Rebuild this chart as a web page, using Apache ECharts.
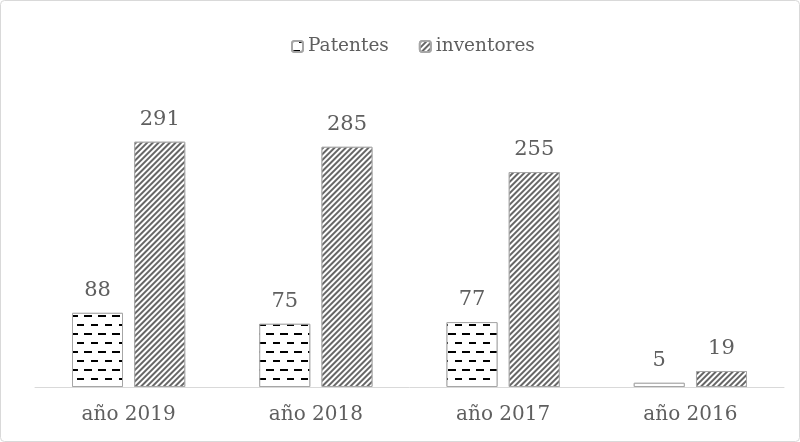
<!DOCTYPE html>
<html>
<head>
<meta charset="utf-8">
<script src="https://cdn.jsdelivr.net/npm/echarts@6/dist/echarts.min.js"></script>
<style>
  html, body { margin: 0; padding: 0; background: #fff; }
  #chartmain { width: 800px; height: 442px; }
</style>
</head>
<body>
<div id="chartmain"></div>
<script>
var categorias = ['año 2019', 'año 2018', 'año 2017', 'año 2016'];
var patentes = [88, 75, 77, 5];
var inventores = [291, 285, 255, 19];

var fuente = 'DejaVu Serif';
var gris = '#5f5f5f';

// trama de guiones horizontales
var decalPatentes = {
    symbol: 'rect',
    color: '#000',
    backgroundColor: '#fff',
    dashArrayX: [[8, 6], [0, 7, 8, -1]],
    dashArrayY: [2, 6.3],
    rotation: 0
};
// trama de diagonales
var decalInventores = {
    symbol: 'rect',
    color: '#000',
    backgroundColor: '#fff',
    dashArrayX: [1, 0],
    dashArrayY: [1.5, 1.9],
    rotation: -Math.PI / 4
};

var myChart = echarts.init(document.getElementById('chartmain'));
myChart.setOption({
    animation: false,
    backgroundColor: '#fff',
    aria: { enabled: true, decal: { show: true } },
    graphic: [{
        type: 'rect',
        shape: { x: 0.5, y: 0.5, width: 799, height: 441, r: 4 },
        style: { fill: 'none', stroke: '#d9d9d9', lineWidth: 1 },
        silent: true
    }],
    legend: {
        left: 286,
        top: 32,
        itemWidth: 11,
        itemHeight: 11,
        itemGap: 30,
        textStyle: { fontFamily: fuente, fontSize: 18.5, color: gris },
        data: ['Patentes', 'inventores']
    },
    grid: { left: 35, right: 16, top: 92, bottom: 55 },
    xAxis: {
        type: 'category',
        data: categorias,
        axisLine: { lineStyle: { color: '#d9d9d9' } },
        axisTick: { show: false },
        axisLabel: { fontFamily: fuente, fontSize: 20, color: gris, margin: 18 }
    },
    yAxis: {
        type: 'value',
        min: 0,
        max: 350,
        show: false,
        splitLine: { show: false }
    },
    series: [{
        name: 'Patentes',
        type: 'bar',
        data: patentes,
        barWidth: 51,
        barGap: '22%',
        itemStyle: { color: '#fff', borderColor: '#a6a6a6', borderWidth: 1, decal: decalPatentes },
        label: { show: true, position: 'top', distance: 12, fontFamily: fuente, fontSize: 21, color: gris }
    }, {
        name: 'inventores',
        type: 'bar',
        data: inventores,
        barWidth: 51,
        itemStyle: { color: '#fff', borderColor: '#a6a6a6', borderWidth: 1, decal: decalInventores },
        label: { show: true, position: 'top', distance: 12, fontFamily: fuente, fontSize: 21, color: gris }
    }]
});
</script>
</body>
</html>
